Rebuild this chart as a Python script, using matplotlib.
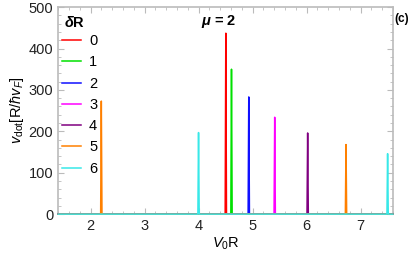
# Resonance peaks of v_dot vs V0 R for several dR values
import matplotlib.pyplot as plt
from matplotlib.ticker import MultipleLocator

plt.rcParams["font.family"] = ["Liberation Sans", "DejaVu Sans"]
plt.rcParams["mathtext.fontset"] = "custom"
plt.rcParams["mathtext.rm"] = "Liberation Sans"
plt.rcParams["mathtext.it"] = "Liberation Sans:italic"
plt.rcParams["mathtext.bf"] = "Liberation Sans:bold:italic"

x_min, x_max = 1.4, 7.6

labels = ["0", "1", "2", "3", "4", "5", "6"]
colors = ["#ff0000", "#00e000", "#1010ff", "#ff00ff", "#800080", "#ff8000", "#38e8e8"]

# peak positions / heights, one list per series
peak_x = [[4.505], [4.61], [4.93], [5.41], [6.02], [2.20, 6.73], [4.00, 7.50]]
peak_h = [[437], [350], [283], [234], [196], [273, 168], [197, 146]]
half_w = 0.012

fig, ax = plt.subplots(figsize=(4.15, 2.54), dpi=100)
fig.subplots_adjust(left=0.14, right=0.947, top=0.972, bottom=0.157)

for lab, col, px, ph in zip(labels, colors, peak_x, peak_h):
    xs, ys = [x_min], [0]
    for p, h in zip(px, ph):
        xs += [p - half_w, p, p + half_w]
        ys += [0, h, 0]
    xs.append(x_max)
    ys.append(0)
    ax.plot(xs, ys, color=col, lw=1.1, label=lab, zorder=3, clip_on=False)

ax.set_xlim(x_min, x_max)
ax.set_ylim(0, 500)
ax.xaxis.set_major_locator(MultipleLocator(1))
ax.xaxis.set_minor_locator(MultipleLocator(0.2))
ax.yaxis.set_major_locator(MultipleLocator(100))
ax.yaxis.set_minor_locator(MultipleLocator(20))
for s in ax.spines.values():
    s.set_color("#bbbbbb")
    s.set_linewidth(1.2)
ax.tick_params(which="both", direction="in", top=True, right=True, color="#bbbbbb",
               labelsize=10.5, labelcolor="#222222")
ax.tick_params(which="major", length=4)
ax.tick_params(which="minor", length=2)

ax.set_xlabel(r"$V_0$R", fontsize=10.5, labelpad=2)
ax.set_ylabel(r"$v_{\rm dot}[\mathrm{R}/\hbar v_F]$", fontsize=10.5, labelpad=2)

ax.legend(loc="upper left", bbox_to_anchor=(0.012, 0.87), frameon=False,
          fontsize=10.5, handlelength=1.3, labelspacing=0.5, borderaxespad=0,
          borderpad=0, handletextpad=0.55)
ax.text(0.017, 0.925, r"$\mathbf{\delta}$R", transform=ax.transAxes, ha="left",
        va="center", fontsize=10.5, fontweight="bold")

ax.text(0.48, 0.915, r"$\mathbf{\mu}$ = 2", transform=ax.transAxes, ha="center",
        fontsize=10.5, fontweight="bold")
fig.text(0.968, 0.915, "(c)", ha="center", fontsize=8.5, fontweight="bold")

fig.savefig("out.png", dpi=100)
